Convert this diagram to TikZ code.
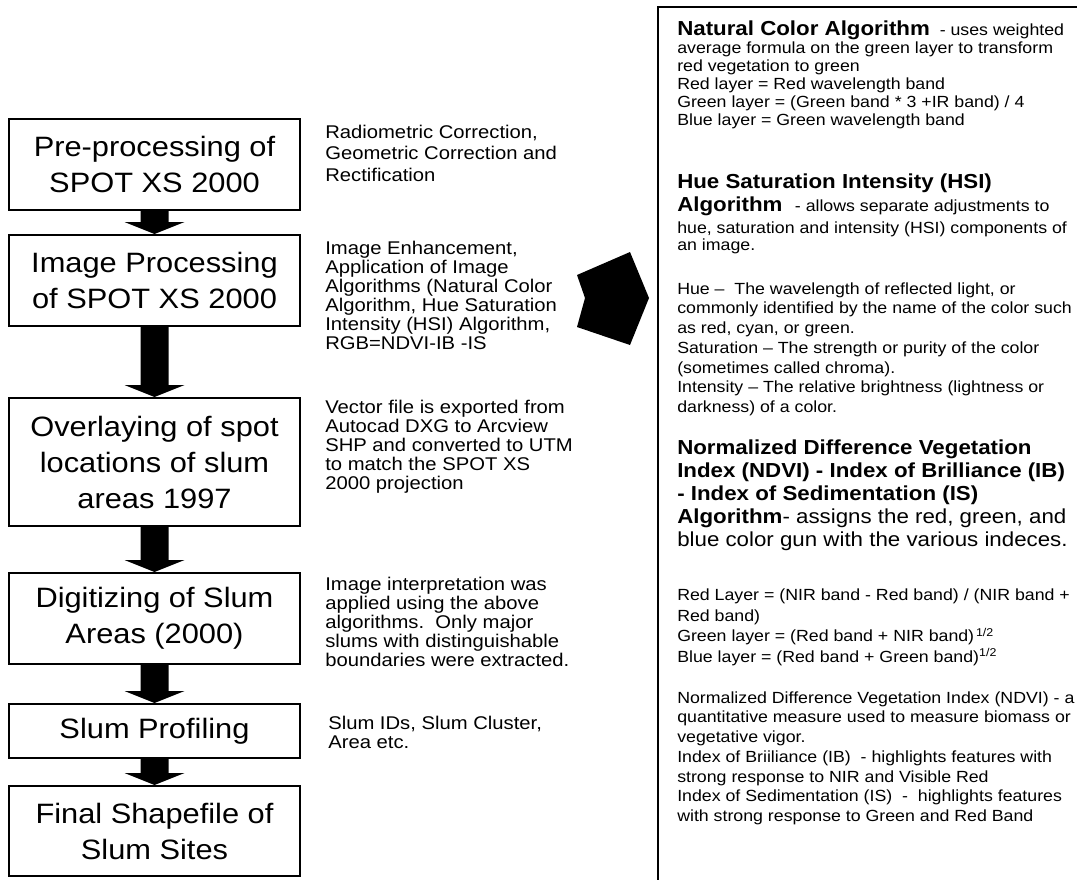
\documentclass[tikz,border=0pt]{standalone}
\usepackage{fontspec}
\setmainfont[FakeStretch=1.1]{Liberation Sans}
\usetikzlibrary{calc}

\newcommand\flowfont{\fontsize{21pt}{27pt}\selectfont}
\newcommand\midfont{\fontsize{13.8pt}{14.2pt}\selectfont}
\newcommand\algsmall{\fontsize{12.1pt}{14.8pt}\selectfont}
\newcommand\alglarge{\fontsize{15.2pt}{17.25pt}\selectfont}

\tikzset{
  stepbox/.style={draw, line width=1.5pt, minimum width=218pt, inner sep=0pt,
    align=center, font=\flowfont},
  sidetext/.style={anchor=base west, inner sep=0pt, align=left, font=\midfont},
  algtext/.style={anchor=base west, inner sep=0pt, align=left, font=\algsmall}
}

\begin{document}
\begin{tikzpicture}[x=0.75pt, y=-0.75pt]
  \useasboundingbox (0,0) rectangle (1077,879);
  \clip (0,0) rectangle (1077,879);

  % steps on the left
  \node[stepbox, minimum height=68.25pt] (pre) at (154.5,164.5)
    {Pre-processing of\\SPOT XS 2000};
  \node[stepbox, minimum height=68.25pt] (img) at (154.5,280.5)
    {Image Processing\\of SPOT XS 2000};
  \node[stepbox, minimum height=96pt] (ovl) at (154.5,462)
    {Overlaying of spot\\locations of slum\\areas 1997};
  \node[stepbox, minimum height=68.25pt] (dig) at (154.5,618.5)
    {Digitizing of Slum\\Areas (2000)};
  \node[stepbox, minimum height=40.5pt] (prof) at (154.5,731)
    {Slum Profiling};
  \node[stepbox, minimum height=67.5pt] (final) at (154.5,831)
    {Final Shapefile of\\Slum Sites};

  \foreach \a/\b in {pre/img, img/ovl, ovl/dig, dig/prof, prof/final}
    \fill ($(\a.south)+(-14,0)$) -- ($(\b.north)+(-14,-12)$)
      -- ($(\b.north)+(-30,-12)$) -- (\b.north) -- ($(\b.north)+(30,-12)$)
      -- ($(\b.north)+(14,-12)$) -- ($(\a.south)+(14,0)$) -- cycle;

  % notes beside the steps (placed at the baseline of their last line)
  \node[sidetext, font=\fontsize{13.8pt}{16.1pt}\selectfont] (radio) at (325,181)
    {Radiometric Correction,\\Geometric Correction and\\Rectification};
  \node[sidetext] (enh) at (325,349)
    {Image Enhancement,\\Application of Image\\Algorithms (Natural Color\\
     Algorithm, Hue Saturation\\Intensity (HSI) Algorithm,\\RGB=NDVI-IB -IS};
  \node[sidetext] (vec) at (325,489)
    {Vector file is exported from\\Autocad DXG to Arcview\\SHP and converted to UTM\\
     to match the SPOT XS\\2000 projection};
  \node[sidetext] (interp) at (325,666)
    {Image interpretation was\\applied using the above\\algorithms.\ \ Only major\\
     slums with distinguishable\\boundaries were extracted.};
  \node[sidetext] (ids) at (328,748)
    {Slum IDs, Slum Cluster,\\Area etc.};

  % big arrow
  \fill (630,252) -- (649,298) -- (630,345) -- (577,327) -- (585,298)
    -- (577,275) -- cycle;

  % algorithm panel
  \draw[line width=1.5pt] (658,7) rectangle (1100,900);
  \node[algtext, font=\fontsize{12.1pt}{13.5pt}\selectfont] (natural) at (677,125.5)
    {{\alglarge\bfseries Natural Color Algorithm}\ \ - uses weighted\\
     average formula on the green layer to transform\\red vegetation to green\\
     Red layer = Red wavelength band\\Green layer = (Green band * 3 +IR band) / 4\\
     Blue layer = Green wavelength band};
  \node[algtext, font=\alglarge\bfseries] (hsihead) at (677,211.5)
    {Hue Saturation Intensity (HSI)\\
     Algorithm\ \ {\mdseries\algsmall - allows separate adjustments to}};
  \node[algtext, font=\fontsize{12.1pt}{12.75pt}\selectfont] (hsitext) at (677,250.5)
    {hue, saturation and intensity (HSI) components of\\an image.};
  \node[algtext] (hue) at (677,412.5)
    {Hue \textendash\ \ The wavelength of reflected light, or\\
     commonly identified by the name of the color such\\as red, cyan, or green.\\
     Saturation \textendash\ The strength or purity of the color\\
     (sometimes called chroma).\\
     Intensity \textendash\ The relative brightness (lightness or\\
     darkness) of a color.};
  \node[algtext, font=\alglarge] (ndvihead) at (677,546.5)
    {\textbf{Normalized Difference Vegetation}\\
     \textbf{Index (NDVI) - Index of Brilliance (IB)}\\
     \textbf{- Index of Sedimentation (IS)}\\
     \textbf{Algorithm}- assigns the red, green, and\\
     blue color gun with the various indeces.};
  \node[algtext, font=\fontsize{12.1pt}{15.5pt}\selectfont] (layers) at (677,662.5)
    {Red Layer\ = (NIR band - Red band) / (NIR band +\\Red band)\\
     Green layer = (Red band + NIR band)\textsuperscript{\,1/2}\\
     Blue layer = (Red band + Green band)\textsuperscript{1/2}};
  \node[algtext] (indices) at (677,821.5)
    {Normalized Difference Vegetation Index (NDVI) - a\\
     quantitative measure used to measure biomass or\\vegetative vigor.\\
     Index of Briiliance (IB)\ \ - highlights features with\\
     strong response to NIR and Visible Red\\
     Index of Sedimentation (IS)\ \ -\ \ highlights features\\
     with strong response to Green and Red Band};
\end{tikzpicture}
\end{document}
